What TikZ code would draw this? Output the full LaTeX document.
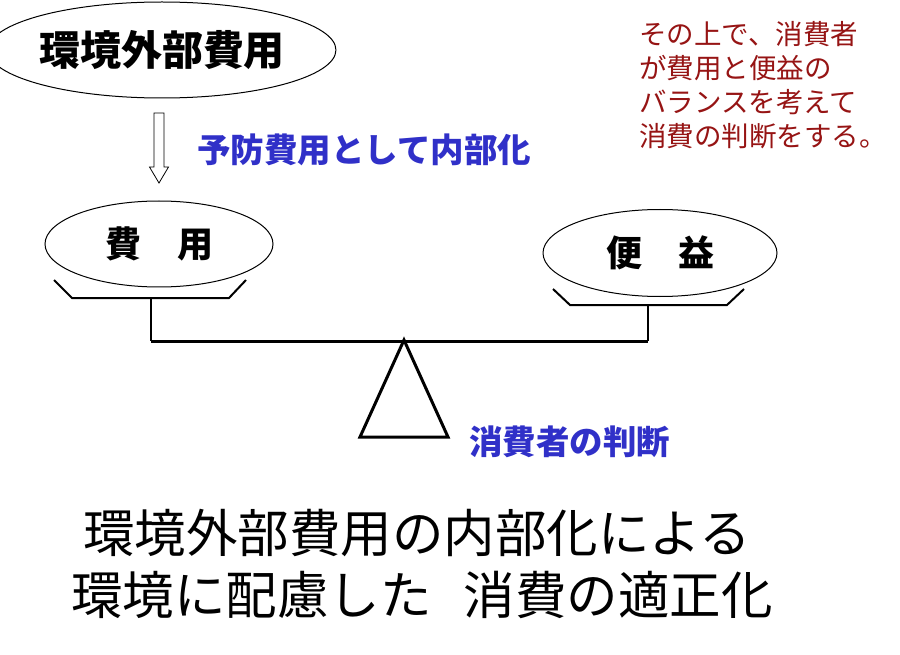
\documentclass[tikz,border=0pt]{standalone}
\usepackage{fontspec}
\setmainfont{Noto Sans CJK JP}
\usetikzlibrary{shapes.geometric,calc}
\definecolor{lblblue}{RGB}{48,48,200}
\definecolor{lblred}{RGB}{150,20,20}
\tikzset{
  oval/.style={draw, ellipse, line width=1pt, inner sep=0pt},
  tray/.style={draw, line width=2pt},
  beam/.style={draw, line width=3pt},
  bluelbl/.style={text=lblblue, font=\bfseries\fontsize{33.5}{38}\selectfont, inner sep=0pt},
  bigtext/.style={font=\fontsize{51.5}{62}\selectfont, anchor=west, inner sep=0pt},
}
\begin{document}
\begin{tikzpicture}[x=1pt,y=-1pt]
\useasboundingbox (0,0) rectangle (900,655);
% top ellipse
\node[oval, minimum width=322pt, minimum height=96pt, font=\bfseries\fontsize{41}{46}\selectfont] (ext) at (162,50) {環境外部費用};
% hollow arrow
\coordinate (arrtop) at (159,113);
\draw[line width=0.8pt] ($(arrtop)+(-5,0)$) -- ($(arrtop)+(5,0)$) -- ($(arrtop)+(5,54)$) -- ($(arrtop)+(9.5,54)$) -- ($(arrtop)+(0,70)$) -- ($(arrtop)+(-9.5,54)$) -- ($(arrtop)+(-5,54)$) -- cycle;
\node[bluelbl, anchor=west] (prev) at (197,150) {予防費用として内部化};
% red note
\node[text=lblred, font=\fontsize{27.5}{34}\selectfont, align=left, anchor=north west, inner sep=0pt] (note) at (639,21) {その上で、消費者\\が費用と便益の\\バランスを考えて\\消費の判断をする。};
% cost ellipse
\node[oval, minimum width=228pt, minimum height=86pt, font=\bfseries\fontsize{36}{40}\selectfont] (cost) at (159,244) {費　用};
% benefit ellipse
\node[oval, minimum width=234pt, minimum height=87pt, font=\bfseries\fontsize{36}{40}\selectfont] (bene) at (660,253) {便　益};
% trays
\coordinate (ct) at (151,298);
\coordinate (bt) at (648,305);
\draw[tray] (54,280) -- (72,298) -- (229,298) -- (246,280);
\draw[tray] (553,289) -- (570,305) -- (727,305) -- (744,289);
% stems and beam
\coordinate (cl) at (151,341);
\coordinate (br) at (648,341);
\draw[line width=2pt] (ct) -- (cl);
\draw[line width=2pt] (bt) -- (br);
\draw[beam] (cl) -- (br);
% fulcrum
\coordinate (apex) at (404,340);
\draw[line width=3pt, line join=miter] (apex) -- (448,437) -- (360,437) -- cycle;
\node[bluelbl, anchor=west] (judge) at (469,442) {消費者の判断};
% bottom text
\node[bigtext] (l1) at (83,533) {環境外部費用の内部化による};
\node[bigtext] (l2) at (71,595) {環境に配慮した\hspace{0.62em}消費の適正化};
\end{tikzpicture}
\end{document}
